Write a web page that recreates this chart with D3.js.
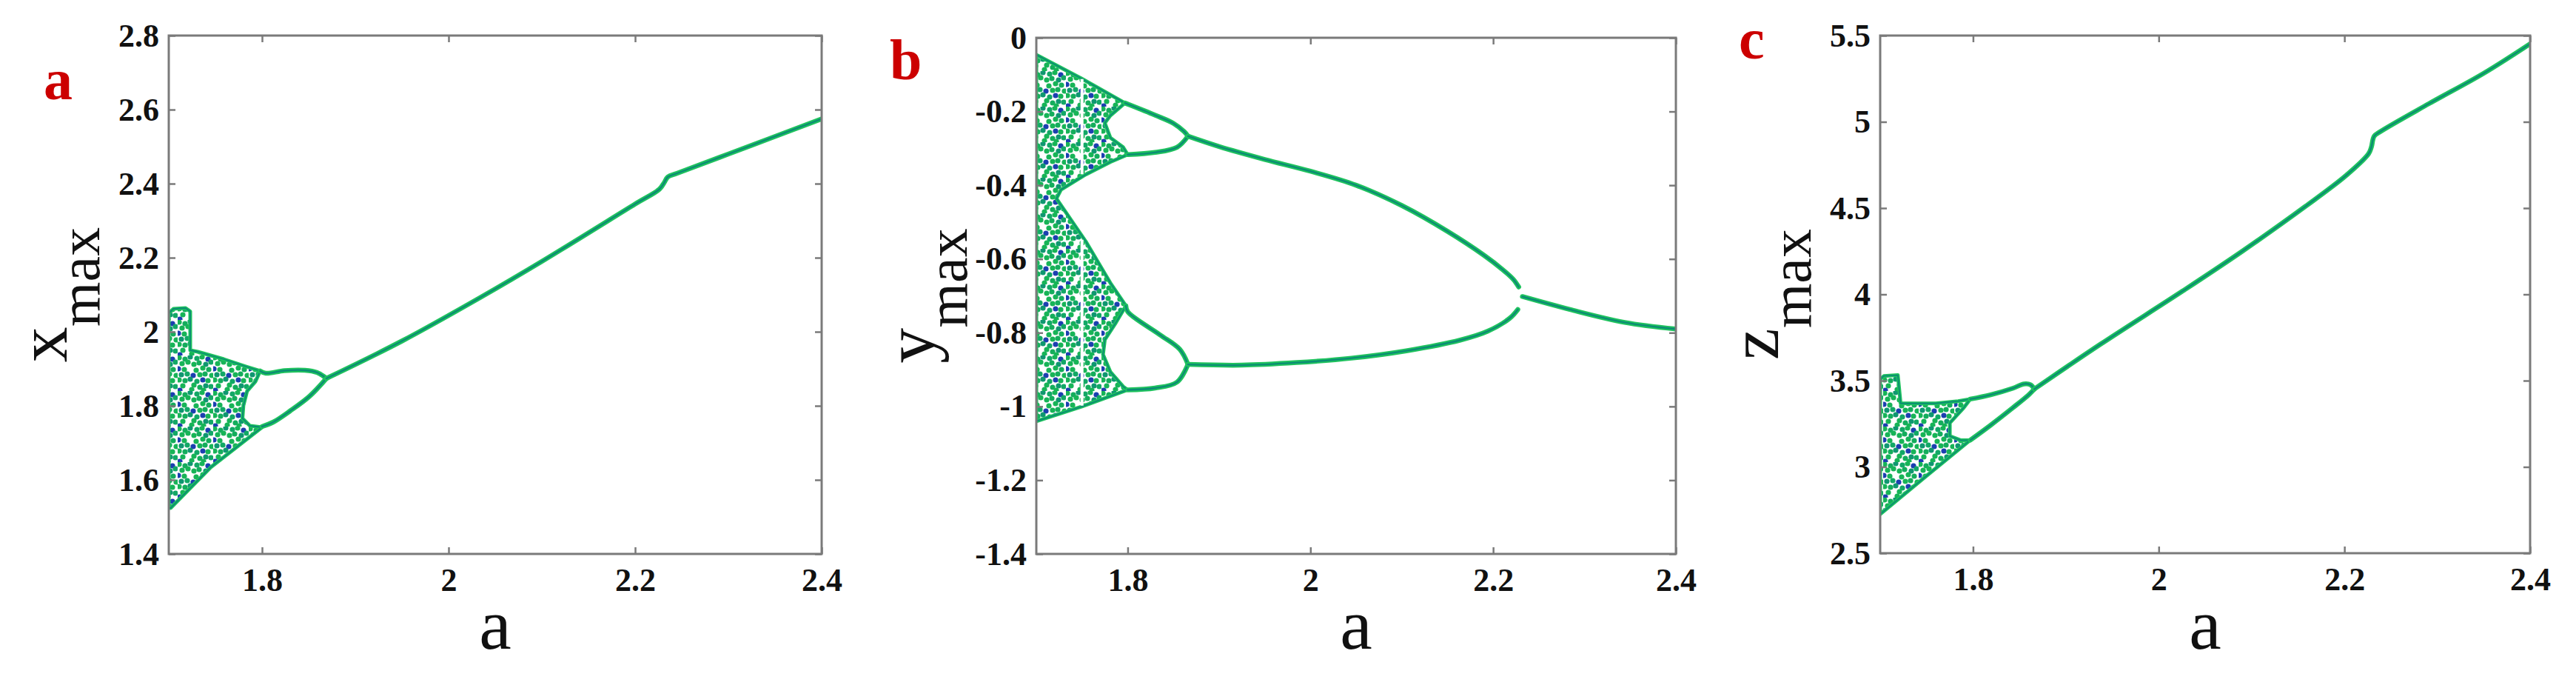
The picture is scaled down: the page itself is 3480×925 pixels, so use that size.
<!DOCTYPE html>
<html><head><meta charset="utf-8">
<script src="https://cdn.jsdelivr.net/npm/d3@7"></script>
<style>
html,body{margin:0;padding:0;background:#fff;}
svg{display:block;}
</style></head>
<body>
<svg id="chart" width="3480" height="925"></svg>
<script>
// ---------------- data ----------------
const aDomain = [1.7, 2.4];
const aTicks = [1.8, 2, 2.2, 2.4];
const xAxisTitle = "a";
const panelLetters = ["a", "b", "c"];
const yTitleMain = ["x", "y", "z"];
const yTitleSub = "max";

// panel a : x_max
const xmaxDomain = [1.4, 2.8];
const xmaxTicks = [1.4, 1.6, 1.8, 2, 2.2, 2.4, 2.6, 2.8];
const xmaxChaos = [[1.700,2.050],[1.705,2.062],[1.718,2.064],[1.723,2.055],[1.723,1.950],[1.731,1.946],[1.759,1.926],[1.783,1.906],[1.798,1.894],[1.793,1.866],[1.784,1.840],[1.780,1.800],[1.779,1.766],[1.787,1.746],[1.800,1.742],[1.745,1.634],[1.702,1.524],[1.700,1.524]];
const xmaxUpper = [[1.798,1.894],[1.804,1.888],[1.824,1.895],[1.846,1.896],[1.859,1.890],[1.867,1.878],[1.869,1.874]];
const xmaxLower = [[1.800,1.744],[1.812,1.756],[1.830,1.786],[1.851,1.826],[1.869,1.874]];
const xmaxMain = [[1.869,1.874],[1.950,1.975],[2.035,2.094],[2.100,2.190],[2.200,2.345],[2.226,2.385],[2.231,2.402],[2.235,2.418],[2.245,2.428],[2.300,2.480],[2.400,2.575]];

// panel b : y_max
const ymaxDomain = [-1.4, 0];
const ymaxTicks = [-1.4, -1.2, -1, -0.8, -0.6, -0.4, -0.2, 0];
const ymaxChaos = [[1.700,-0.046],[1.749,-0.110],[1.797,-0.177],[1.781,-0.211],[1.775,-0.231],[1.781,-0.271],[1.795,-0.297],[1.800,-0.317],[1.781,-0.337],[1.754,-0.371],[1.727,-0.412],[1.722,-0.436],[1.754,-0.552],[1.781,-0.665],[1.798,-0.727],[1.787,-0.773],[1.775,-0.819],[1.773,-0.859],[1.781,-0.906],[1.795,-0.946],[1.800,-0.955],[1.750,-1.000],[1.700,-1.040]];
const ymaxWindowTop = [[1.750,-0.112],[1.750,-0.370]];
const ymaxWindowBottom = [[1.750,-0.548],[1.750,-0.998]];
const ymaxUpperTop = [[1.797,-0.177],[1.830,-0.210],[1.850,-0.232],[1.862,-0.255],[1.866,-0.267]];
const ymaxUpperBottom = [[1.800,-0.317],[1.830,-0.311],[1.854,-0.297],[1.866,-0.267]];
const ymaxLowerTop = [[1.798,-0.727],[1.800,-0.743],[1.835,-0.805],[1.857,-0.845],[1.866,-0.886]];
const ymaxLowerBottom = [[1.800,-0.955],[1.830,-0.950],[1.854,-0.934],[1.866,-0.886]];
const ymaxArmUpper = [[1.866,-0.267],[1.900,-0.295],[1.950,-0.330],[2.000,-0.362],[2.050,-0.400],[2.100,-0.455],[2.150,-0.525],[2.190,-0.590],[2.210,-0.628],[2.222,-0.655],[2.228,-0.676]];
const ymaxArmLower = [[1.866,-0.886],[1.925,-0.888],[1.985,-0.881],[2.045,-0.869],[2.105,-0.849],[2.164,-0.820],[2.194,-0.796],[2.218,-0.761],[2.227,-0.737]];
const ymaxRight = [[2.232,-0.702],[2.284,-0.737],[2.344,-0.772],[2.400,-0.790]];

// panel c : z_max
const zmaxDomain = [2.5, 5.5];
const zmaxTicks = [2.5, 3, 3.5, 4, 4.5, 5, 5.5];
const zmaxChaos = [[1.700,3.507],[1.704,3.527],[1.719,3.532],[1.722,3.368],[1.760,3.368],[1.784,3.381],[1.797,3.393],[1.790,3.343],[1.775,3.255],[1.775,3.179],[1.787,3.154],[1.797,3.155],[1.748,2.940],[1.700,2.726]];
const zmaxUpper = [[1.797,3.393],[1.819,3.418],[1.843,3.456],[1.855,3.481],[1.862,3.476],[1.866,3.451]];
const zmaxLower = [[1.797,3.155],[1.819,3.242],[1.843,3.343],[1.860,3.418],[1.866,3.451]];
const zmaxMain = [[1.866,3.451],[1.937,3.710],[2.026,4.020],[2.090,4.250],[2.158,4.510],[2.202,4.690],[2.226,4.815],[2.229,4.853],[2.232,4.916],[2.238,4.941],[2.291,5.105],[2.350,5.281],[2.400,5.452]];

// ---------------- drawing ----------------
const svg = d3.select("#chart");
const defs = svg.append("defs");

// speckle texture for the chaotic bands (style only)
const texSize = 48;
const pat = defs.append("pattern").attr("id", "chaosTex")
  .attr("patternUnits", "userSpaceOnUse").attr("width", texSize).attr("height", texSize);
pat.append("rect").attr("width", texSize).attr("height", texSize).attr("fill", "#ffffff");
const texDots = [[2,3],[10,5],[17,2],[26,4],[41,5],
  [6,11],[14,9],[22,12],[29,10],[38,12],[45,9],
  [1,18],[9,19],[25,20],[34,17],[42,19],
  [5,26],[13,25],[21,27],[30,26],[46,27],
  [2,33],[10,34],[17,32],[26,35],[34,33],[41,34],
  [7,41],[22,40],[30,43],[38,41],[45,42],
  [3,47],[19,46],[35,47],[33,2],[37,25]];
const texColors = ["#17b457", "#12a866", "#17b457", "#0f9770", "#17b457", "#14ad5c", "#1b3fb0"];
texDots.forEach((d, k) => pat.append("circle").attr("cx", d[0]).attr("cy", d[1]).attr("r", 3.6)
  .attr("fill", texColors[(k * 5) % texColors.length]));

const fmt = d => String(+d.toFixed(2));

const panels = [
  { letter: panelLetters[0], main: yTitleMain[0], domain: xmaxDomain, ticks: xmaxTicks,
    chaos: [xmaxChaos], windows: [], lines: [xmaxUpper, xmaxLower, xmaxMain],
    box: { l: 228, r: 1110, t: 48, b: 748 }, letterPos: [59, 134] },
  { letter: panelLetters[1], main: yTitleMain[1], domain: ymaxDomain, ticks: ymaxTicks,
    chaos: [ymaxChaos], windows: [ymaxWindowTop, ymaxWindowBottom],
    lines: [ymaxUpperTop, ymaxUpperBottom, ymaxLowerTop, ymaxLowerBottom, ymaxArmUpper, ymaxArmLower, ymaxRight],
    box: { l: 1400, r: 2264, t: 51, b: 748 }, letterPos: [1202, 107] },
  { letter: panelLetters[2], main: yTitleMain[2], domain: zmaxDomain, ticks: zmaxTicks,
    chaos: [zmaxChaos], windows: [], lines: [zmaxUpper, zmaxLower, zmaxMain],
    box: { l: 2540, r: 3418, t: 48, b: 747 }, letterPos: [2349, 79] }
];

const axisColor = "#7a7a7a";
const lineOuter = "#1fc25e";
const lineInner = "#0b8c74";

panels.forEach((p, i) => {
  const { l, r, t, b } = p.box;
  const x = d3.scaleLinear().domain(aDomain).range([l, r]);
  const y = d3.scaleLinear().domain(p.domain).range([b, t]);
  const g = svg.append("g");

  defs.append("clipPath").attr("id", "clip" + i)
    .append("rect").attr("x", l).attr("y", t).attr("width", r - l).attr("height", b - t);
  const plot = g.append("g").attr("clip-path", `url(#clip${i})`);

  const curve = d3.line().x(d => x(d[0])).y(d => y(d[1])).curve(d3.curveCatmullRom.alpha(0.5));
  const poly = d3.line().x(d => x(d[0])).y(d => y(d[1])).curve(d3.curveLinearClosed);
  const straight = d3.line().x(d => x(d[0])).y(d => y(d[1]));

  p.chaos.forEach(c => {
    plot.append("path").attr("d", poly(c)).attr("fill", "url(#chaosTex)")
      .attr("stroke", lineOuter).attr("stroke-width", 5).attr("stroke-linejoin", "round");
    plot.append("path").attr("d", poly(c)).attr("fill", "none")
      .attr("stroke", lineInner).attr("stroke-width", 1.8).attr("stroke-linejoin", "round");
  });
  p.windows.forEach(w => {
    plot.append("path").attr("d", straight(w))
      .attr("stroke", "#fff").attr("stroke-width", 4).attr("fill", "none");
  });
  p.lines.forEach(ln => {
    plot.append("path").attr("d", curve(ln)).attr("fill", "none")
      .attr("stroke", lineOuter).attr("stroke-width", 6.5).attr("stroke-linecap", "round");
    plot.append("path").attr("d", curve(ln)).attr("fill", "none")
      .attr("stroke", lineInner).attr("stroke-width", 2.4).attr("stroke-linecap", "round");
  });

  // axes (ticks inward on all four sides)
  const styleAxis = sel => {
    sel.select(".domain").remove();
    sel.selectAll(".tick line").attr("stroke", axisColor).attr("stroke-width", 2.5);
    sel.selectAll(".tick text").attr("fill", "#111")
      .style("font-family", "'Liberation Serif', 'Times New Roman', serif")
      .style("font-weight", "bold").style("font-size", "44px");
  };
  g.append("g").attr("transform", `translate(0,${b})`)
    .call(d3.axisBottom(x).tickValues(aTicks).tickSizeInner(-9).tickSizeOuter(0).tickPadding(19).tickFormat(fmt))
    .call(styleAxis);
  g.append("g").attr("transform", `translate(0,${t})`)
    .call(d3.axisTop(x).tickValues(aTicks).tickSizeInner(-9).tickSizeOuter(0).tickFormat(() => ""))
    .call(styleAxis);
  g.append("g").attr("transform", `translate(${l},0)`)
    .call(d3.axisLeft(y).tickValues(p.ticks).tickSizeInner(-9).tickSizeOuter(0).tickPadding(13).tickFormat(fmt))
    .call(styleAxis);
  g.append("g").attr("transform", `translate(${r},0)`)
    .call(d3.axisRight(y).tickValues(p.ticks).tickSizeInner(-9).tickSizeOuter(0).tickFormat(() => ""))
    .call(styleAxis);

  g.append("rect").attr("x", l).attr("y", t).attr("width", r - l).attr("height", b - t)
    .attr("fill", "none").attr("stroke", axisColor).attr("stroke-width", 3);

  // x-axis title
  g.append("text").attr("x", (l + r) / 2).attr("y", 876).attr("text-anchor", "middle")
    .style("font-family", "'Liberation Serif', 'Times New Roman', serif").style("font-size", "98px")
    .attr("fill", "#111").text(xAxisTitle);

  // y-axis title with subscript
  const yt = g.append("text")
    .attr("transform", `translate(${l - 138},${(t + b) / 2}) rotate(-90)`)
    .attr("text-anchor", "middle")
    .style("font-family", "'Liberation Serif', 'Times New Roman', serif").attr("fill", "#111");
  yt.append("tspan").style("font-size", "96px").text(p.main);
  yt.append("tspan").attr("dy", 44).style("font-size", "78px").text(yTitleSub);

  // panel letter
  g.append("text").attr("x", p.letterPos[0]).attr("y", p.letterPos[1])
    .style("font-family", "'Liberation Serif', 'Times New Roman', serif")
    .style("font-weight", "bold").style("font-size", "78px").attr("fill", "#cc0000").text(p.letter);
});
</script>
</body></html>
